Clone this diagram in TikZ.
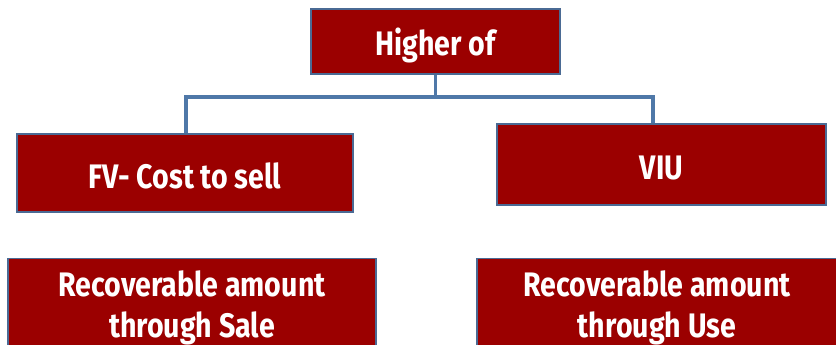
\documentclass[tikz,border=0pt]{standalone}
\usepackage{fontspec}
\setmainfont{Fira Sans}[FakeStretch=0.84]
\definecolor{boxred}{HTML}{9B0000}
\definecolor{boxedge}{HTML}{4A6A94}
\definecolor{linkblue}{HTML}{4F78A8}
\tikzset{
  redbox/.style={draw=boxedge, line width=1.8pt, fill=boxred, inner sep=0pt},
  boxtext/.style={text=white, font=\bfseries\fontsize{34}{41}\selectfont,
    align=center, inner sep=0pt},
  link/.style={draw=linkblue, line width=3.2pt}
}
\begin{document}
\begin{tikzpicture}[x=1pt,y=-1pt]
\useasboundingbox (0,0) rectangle (836,345);
\node[redbox, minimum width=249pt, minimum height=65pt] (top) at (435.5,41.5) {};
\node[redbox, minimum width=336pt, minimum height=78pt] (fv) at (185,173) {};
\node[redbox, minimum width=329pt, minimum height=81pt] (viu) at (661.5,164.5) {};
\node[redbox, minimum width=368pt, minimum height=92pt] (sale) at (192,304.5) {};
\node[redbox, minimum width=360pt, minimum height=92pt] (use) at (657,304.5) {};
\node[boxtext] (toptext) at ([yshift=-4pt]top.center) {Higher of};
\node[boxtext] (fvtext) at ([yshift=-3pt]fv.center) {FV- Cost to sell};
\node[boxtext] (viutext) at ([yshift=-4pt]viu.center) {VIU};
\node[boxtext] (saletext) at ([yshift=-3pt]sale.center) {Recoverable amount\\through Sale};
\node[boxtext] (usetext) at ([yshift=-3pt]use.center) {Recoverable amount\\through Use};
\coordinate (j) at (435.5,97);
\draw[link] (top.south) -- (j);
\draw[link] (j) -| ([xshift=1pt]fv.north);
\draw[link] (j) -| ([xshift=-8.5pt]viu.north);
\end{tikzpicture}
\end{document}
